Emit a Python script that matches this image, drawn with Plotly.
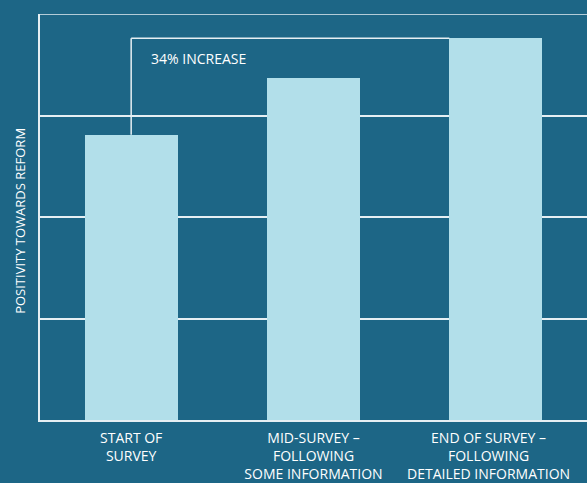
import plotly.graph_objects as go

NB = "\u00a0"
categories = ["START OF<br>SURVEY", "MID-SURVEY –<br>FOLLOWING<br>SOME INFORMATION",
              "END OF SURVEY –" + NB * 4 + "<br>FOLLOWING" + NB * 4 + "<br>DETAILED INFORMATION" + NB * 4]
values = [2.81, 3.37, 3.76]
increase_label = "34% INCREASE"
y_title = "POSITIVITY TOWARDS REFORM"

BG = "#1d6686"
BAR = "#b2dfea"
LINE = "#e6eff3"
FONT = "Open Sans"
bar_width = 0.51

fig = go.Figure()
fig.add_trace(go.Bar(x=[0, 1, 2], y=values, width=bar_width,
                     marker=dict(color=BAR, line=dict(width=0)),
                     hoverinfo="skip"))

# bracket: from first bar top up to last bar level, across to last bar
fig.add_shape(type="line", xref="x", yref="y", x0=0, x1=0, y0=values[0], y1=values[2],
              line=dict(color=LINE, width=1.5), layer="above")
fig.add_shape(type="line", xref="x", yref="y", x0=0, x1=2 - bar_width / 2, y0=values[2], y1=values[2],
              line=dict(color=LINE, width=1.5), layer="above")
# top gridline at range maximum
fig.add_shape(type="line", xref="paper", yref="y", x0=0, x1=1, y0=4, y1=4,
              line=dict(color=LINE, width=1.5), layer="below")
fig.add_annotation(x=0.1, y=values[2] - 0.2, xref="x", yref="y",
                   text=increase_label, showarrow=False, xanchor="left",
                   font=dict(family=FONT, size=14, color="white"))

fig.update_layout(
    width=587, height=483,
    margin=dict(l=40, r=0, t=14, b=63, autoexpand=False),
    paper_bgcolor=BG, plot_bgcolor=BG,
    showlegend=False,
    font=dict(family=FONT, color="white"),
    bargap=0,
)
fig.update_xaxes(range=[-0.5, 2.5], tickvals=[0, 1, 2], ticktext=categories,
                 showgrid=False, showline=True, linecolor=LINE, linewidth=1.5,
                 ticks="", tickfont=dict(family=FONT, size=14, color="white"),
                 ticklabelstandoff=4, automargin=False, ticklabeloverflow="allow",
                 zeroline=False, fixedrange=True)
fig.update_yaxes(range=[0, 4], tickvals=[1, 2, 3], showticklabels=False,
                 showgrid=True, gridcolor=LINE, gridwidth=1.5, automargin=False,
                 showline=True, linecolor=LINE, linewidth=1.5, zeroline=False,
                 ticks="", fixedrange=True)
fig.add_annotation(x=-0.037, y=0.49, xref="paper", yref="paper", text=y_title,
                   textangle=-90, showarrow=False, xanchor="center", yanchor="middle",
                   font=dict(family=FONT, size=13, color="white"))

fig.write_html("out.html", config={"displayModeBar": False},
               post_script="document.body.style.margin='0';document.body.style.overflow='hidden';"
                           "document.body.style.background='" + BG + "';")
